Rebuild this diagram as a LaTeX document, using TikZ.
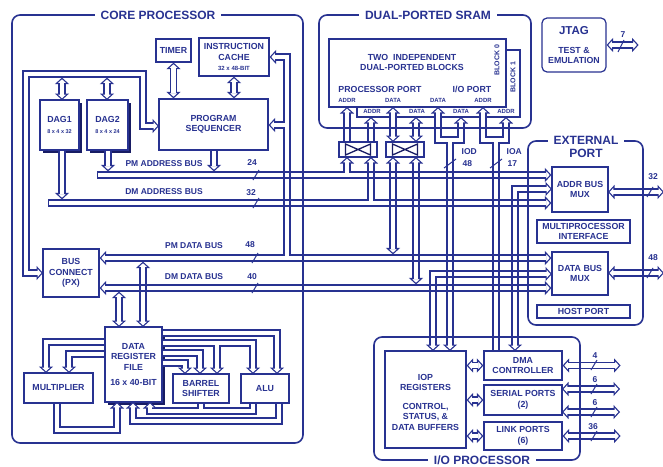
\documentclass[tikz,border=0pt]{standalone}
\usepackage{fontspec}
\setmainfont{Liberation Sans}
\usetikzlibrary{arrows.meta}
\definecolor{ink}{RGB}{40,50,145}
\definecolor{inkd}{RGB}{24,28,100}
\newcommand\fBx{\fontsize{8.8}{10.5}\selectfont\bfseries}
\newcommand\fLb{\fontsize{8.5}{10}\selectfont\bfseries}
\newcommand\fTt{\fontsize{12}{12.5}\selectfont\bfseries}
\newcommand\fSm{\fontsize{6}{7}\selectfont\bfseries}
\pgfdeclarelayer{bgl}
\pgfdeclarelayer{shadowl}
\pgfdeclarelayer{blockl}
\pgfdeclarelayer{busout}
\pgfdeclarelayer{busin}
\pgfsetlayers{bgl,shadowl,blockl,busout,busin,main}
\tikzset{
  Hd/.tip={Triangle[length=6.5pt 0 0, width=14pt 0 0, line width=1.1pt 0 0, fill=white]},
  box/.style={draw=ink, line width=1.2pt, fill=white, inner sep=0pt, align=center, text=ink, font=\fBx},
  frm/.style={draw=ink, line width=1.6pt, rounded corners=8pt},
  ttl/.style={fill=white, text=ink, font=\fTt, inner xsep=6pt, inner ysep=0.5pt, align=center},
  lbl/.style={text=ink, font=\fLb, inner sep=0.5pt, align=center},
  sml/.style={text=ink, font=\fSm, inner sep=0.3pt},
  sl/.style={draw=ink, line width=1pt},
  shad/.style={fill=inkd},
}
\newcommand\BusPaths{%
  % core processor
  \draw[bus,hB] (159,126) -- (143,126) -- (143,74) -- (26,74) -- (26,273) -- (43,273);
  \draw[bus,hB] (62,100) -- (62,77.6);
  \draw[bus,hB] (107,100) -- (107,77.6);
  \draw[bus,hB] (timer.south) -- (timer.south |- seq.north);
  \draw[bus,hB] (cache.south) -- (cache.south |- seq.north);
  \draw[bus,hE] (287,258) -- (287,57) -- (cache.east |- 0,57);
  \draw[bus,hE] (287,125) -- (seq.east |- 0,125);
  \draw[bus,hE] (62,150) -- (62,199.4);
  \draw[bus,hE] (108,150) -- (108,171.4);
  \draw[bus,hE] (214,150) -- (214,171.4);
  \draw[bus,cS,hE] (97,175) -- (amux.west |- 0,175);
  \draw[bus,cS,hE] (48,203) -- (amux.west |- 0,203);
  \draw[bus,hB] (bc.east |- 0,258) -- (dmux.west |- 0,258);
  \draw[bus,hB] (bc.east |- 0,288) -- (dmux.west |- 0,288);
  \draw[bus,hB] (119,327) -- (119,291.6);
  \draw[bus,hB] (143,327) -- (143,261.6);
  \draw[bus,hE] (105,342) -- (46,342) -- (46,373);
  \draw[bus,hE] (105,354) -- (69,354) -- (69,373);
  \draw[bus,hE] (162,333) -- (277,333) -- (277,374);
  \draw[bus,hE] (162,343) -- (253,343) -- (253,374);
  \draw[bus,hE] (217,343) -- (217,374);
  \draw[bus,hE] (162,353) -- (200,353) -- (200,374);
  \draw[bus,hE] (162,363) -- (185,363) -- (185,374);
  \draw[bus,hE] (201,403) -- (201,411) -- (150,411) -- (150,402);
  \draw[bus] (253,403) -- (253,411) -- (201,411);
  \draw[bus,hE] (279,403) -- (279,421) -- (133,421) -- (133,402);
  \draw[bus,hE] (57,403) -- (57,430) -- (117,430) -- (117,402);
  % dual-ported sram
  \draw[bus,hS] (347,107) -- (347,142);
  \draw[bus,hS] (371,117) -- (371,142);
  \draw[bus,hB] (393,107) -- (393,142);
  \draw[bus,hB] (416,117) -- (416,142);
  \draw[bus,hS] (347,157) -- (347,175);
  \draw[bus,hS] (371,157) -- (371,203);
  \draw[bus,hB] (393,157) -- (393,254.4);
  \draw[bus,hB] (416,157) -- (416,284.4);
  \draw[bus,hS] (438,107) -- (438,140) -- (450,140);
  \draw[bus,hS] (461,117) -- (461,140) -- (450,140);
  \draw[bus,hE] (450,140) -- (450,351);
  \draw[bus,hS] (483,107) -- (483,140) -- (496,140);
  \draw[bus,hS] (506,117) -- (506,140) -- (496,140);
  \draw[bus] (496,140) -- (496,351);
  \draw[bus,hB] (552,189) -- (515,189) -- (515,351);
  \draw[bus,hB] (552,274) -- (433,274) -- (433,351);
  % external port, jtag
  \draw[bus,hB] (608,192) -- (664,192);
  \draw[bus,hB] (608,273) -- (664,273);
  \draw[bus,hB] (jtag.east) -- ++(32,0);
  % i/o processor
  \draw[bus,hB] (iop.east |- dma.west) -- (dma.west);
  \draw[bus,hB] (iop.east |- ser.west) -- (ser.west);
  \draw[bus,hB] (iop.east |- link.west) -- (link.west);
  \draw[bus,hB] (dma.east) -- ++(58,0);
  \draw[bus,hB] (562,389) -- (620,389);
  \draw[bus,hB] (562,412) -- (620,412);
  \draw[bus,hB] (link.east) -- ++(58,0);
}
\begin{document}
\begin{tikzpicture}[x=1pt,y=-1pt]
\useasboundingbox (0,0) rectangle (663,466);
\begin{pgfonlayer}{bgl}
  \fill[white] (-5,-5) rectangle (670,475);
\end{pgfonlayer}
% ---------- boxes (main layer) ----------
\node[box, minimum width=35pt, minimum height=23pt] (timer) at (173.5,50.5) {TIMER};
\node[box, minimum width=70pt, minimum height=38pt] (cache) at (234,57) {INSTRUCTION\\CACHE\\{\fontsize{6}{7}\selectfont 32 x 48-BIT}};
\node[box, minimum width=39pt, minimum height=50pt] (dag1) at (59.5,125) {DAG1\\{\fontsize{5.5}{6.5}\selectfont 8 x 4 x 32}};
\node[box, minimum width=41pt, minimum height=50pt] (dag2) at (107.5,125) {DAG2\\{\fontsize{5.5}{6.5}\selectfont 8 x 4 x 24}};
\node[box, minimum width=109pt, minimum height=51pt] (seq) at (213.5,124.5) {PROGRAM\\SEQUENCER};
\node[box, minimum width=56pt, minimum height=48pt] (bc) at (71,273) {BUS\\CONNECT\\(PX)};
\node[box, minimum width=57pt, minimum height=75pt] (drf) at (133.5,364.5) {DATA\\REGISTER\\FILE\\[5pt]16 x 40-BIT};
\node[box, minimum width=69pt, minimum height=30pt] (mult) at (58.5,388) {MULTIPLIER};
\node[box, minimum width=56pt, minimum height=29pt] (shift) at (201,388.5) {BARREL\\SHIFTER};
\node[box, minimum width=48pt, minimum height=29pt] (alu) at (265,388.5) {ALU};
\node[box, minimum width=38pt, minimum height=15pt] (sw1) at (358,149.5) {};
\node[box, minimum width=38pt, minimum height=15pt] (sw2) at (405,149.5) {};
\draw[inkd, line width=1.3pt] (345.5,144) -- (370.5,155) -- (370.5,144) -- (345.5,155) -- cycle;
\draw[inkd, line width=1.3pt] (392.5,144) -- (417.5,155) -- (417.5,144) -- (392.5,155) -- cycle;
\node[box, rounded corners=5pt, minimum width=64pt, minimum height=54pt] (jtag) at (574,45) {{\fontsize{11.5}{12}\selectfont JTAG}\\[8.5pt]TEST \&\\EMULATION};
\node[box, minimum width=56pt, minimum height=45pt] (amux) at (580,189.5) {ADDR BUS\\MUX};
\node[box, minimum width=93pt, minimum height=23pt] (mpi) at (583.5,231.5) {MULTIPROCESSOR\\INTERFACE};
\node[box, minimum width=56pt, minimum height=43pt] (dmux) at (580,273.5) {DATA BUS\\MUX};
\node[box, minimum width=93pt, minimum height=13pt] (host) at (583.5,311.5) {HOST PORT};
\node[box, minimum width=81pt, minimum height=97pt] (iop) at (425.5,399.5) {};
\node[lbl, font=\fBx] (iopt) at (425.5,402) {IOP\\REGISTERS\\[8pt]CONTROL,\\STATUS, \&\\DATA BUFFERS};
\node[box, minimum width=78pt, minimum height=29pt] (dma) at (523,365.5) {DMA\\CONTROLLER};
\node[box, minimum width=78pt, minimum height=30pt] (ser) at (523,400) {SERIAL PORTS\\(2)};
\node[box, minimum width=78pt, minimum height=28pt] (link) at (523,436) {LINK PORTS\\(6)};
% ---------- shadows ----------
\begin{pgfonlayer}{shadowl}
  \fill[shad] (43,103) rectangle (82,153);
  \fill[shad] (90,103) rectangle (131,153);
  \fill[shad] (108,330) rectangle (165,405);
\end{pgfonlayer}
% ---------- memory blocks ----------
\begin{pgfonlayer}{blockl}
  \node[box, minimum width=163pt, minimum height=67pt] (blk1) at (438.5,83.5) {};
  \node[box, minimum width=177pt, minimum height=68pt] (blk0) at (417.5,73) {};
\end{pgfonlayer}
% ---------- buses: two passes ----------
\begin{pgfonlayer}{busout}
\begin{scope}[bus/.style={draw=ink, line width=7.2pt, line join=miter},
  hE/.style={-{Hd}}, hS/.style={{Hd}-}, hB/.style={{Hd}-{Hd}}, cS/.style={}]
  \BusPaths
\end{scope}
\end{pgfonlayer}
\begin{pgfonlayer}{busin}
\begin{scope}[bus/.style={draw=white, line width=4.8pt, line join=miter},
  hE/.style={shorten >=5pt}, hS/.style={shorten <=5pt},
  hB/.style={shorten >=5pt, shorten <=5pt}, cS/.style={shorten <=1.2pt}]
  \BusPaths
\end{scope}
\foreach \x/\y in {287/175, 287/203, 143/288, 371/175, 393/175, 393/203,
  416/175, 416/203, 416/258, 433/288, 450/175, 450/203, 450/258, 450/274,
  450/288, 496/175, 496/203, 496/258, 496/274, 496/288, 515/203, 515/258,
  515/274, 515/288}
  \draw[ink, line width=1.2pt] (\x-3,\y-3) rectangle (\x+3,\y+3);
\end{pgfonlayer}
% ---------- frames and titles ----------
\draw[frm] (12,15) rectangle (303,443);
\draw[frm] (319,15) rectangle (531,128);
\draw[frm] (528,141) rectangle (643,325);
\draw[frm] (374,337) rectangle (580,460);
\node[ttl] (tcore) at (158,15) {CORE PROCESSOR};
\node[ttl] (tsram) at (428,15) {DUAL-PORTED SRAM};
\node[ttl] (text) at (586,147) {EXTERNAL\\PORT};
\node[ttl] (tio) at (482,460) {I/O PROCESSOR};
% ---------- block texts ----------
\node[lbl, font=\fBx] (b0a) at (412,62.5) {TWO\ \ INDEPENDENT\\DUAL-PORTED BLOCKS};
\node[lbl, font=\fBx] (b0b) at (380,89) {PROCESSOR PORT};
\node[lbl, font=\fBx] (b0c) at (472,89) {I/O PORT};
\node[sml] (p1) at (347,100) {ADDR};
\node[sml] (p2) at (393,100) {DATA};
\node[sml] (p3) at (438,100) {DATA};
\node[sml] (p4) at (483,100) {ADDR};
\node[sml] (p5) at (372,111) {ADDR};
\node[sml] (p6) at (417,111) {DATA};
\node[sml] (p7) at (461,111) {DATA};
\node[sml] (p8) at (506,111) {ADDR};
\node[lbl, font=\fontsize{7}{8}\selectfont\bfseries, rotate=90] (bl0) at (497,60) {BLOCK 0};
\node[lbl, font=\fontsize{7}{8}\selectfont\bfseries, rotate=90] (bl1) at (513,77) {BLOCK 1};
% ---------- bus labels ----------
\node[lbl] (lpma) at (164,164) {PM ADDRESS BUS};
\node[lbl] (ldma) at (164,192) {DM ADDRESS BUS};
\node[lbl] (lpmd) at (194,246) {PM DATA BUS};
\node[lbl] (ldmd) at (194,277) {DM DATA BUS};
\node[lbl] (n24) at (252,163) {24};
\node[lbl] (n32) at (251,193) {32};
\node[lbl] (n48) at (250,245) {48};
\node[lbl] (n40) at (252,277) {40};
\draw[sl] (253,180) -- (259,170);
\draw[sl] (253,208) -- (259,198);
\draw[sl] (252,263) -- (258,253);
\draw[sl] (252,293) -- (258,283);
\node[lbl, anchor=west] (liod) at (461,152) {IOD};
\node[lbl, anchor=west] (liod2) at (462,163.5) {48};
\node[lbl, anchor=west] (lioa) at (506,152) {IOA};
\node[lbl, anchor=west] (lioa2) at (507,163.5) {17};
\draw[sl] (444,168) -- (456,159);
\draw[sl] (490,168) -- (502,159);
\node[lbl] (ne32) at (653,177) {32};
\node[lbl] (ne48) at (653,258) {48};
\draw[sl] (647,197) -- (653,187);
\draw[sl] (647,278) -- (653,268);
\node[lbl] (nj7) at (623,35) {7};
\draw[sl] (618,52) -- (624,40);
\node[lbl] (ni4) at (595,356) {4};
\node[lbl] (ni6a) at (595,380) {6};
\node[lbl] (ni6b) at (595,403) {6};
\node[lbl] (ni36) at (593,427) {36};
\draw[sl] (591,370) -- (597,360);
\draw[sl] (591,394) -- (597,384);
\draw[sl] (591,417) -- (597,407);
\draw[sl] (591,441) -- (597,431);
\end{tikzpicture}
\end{document}
